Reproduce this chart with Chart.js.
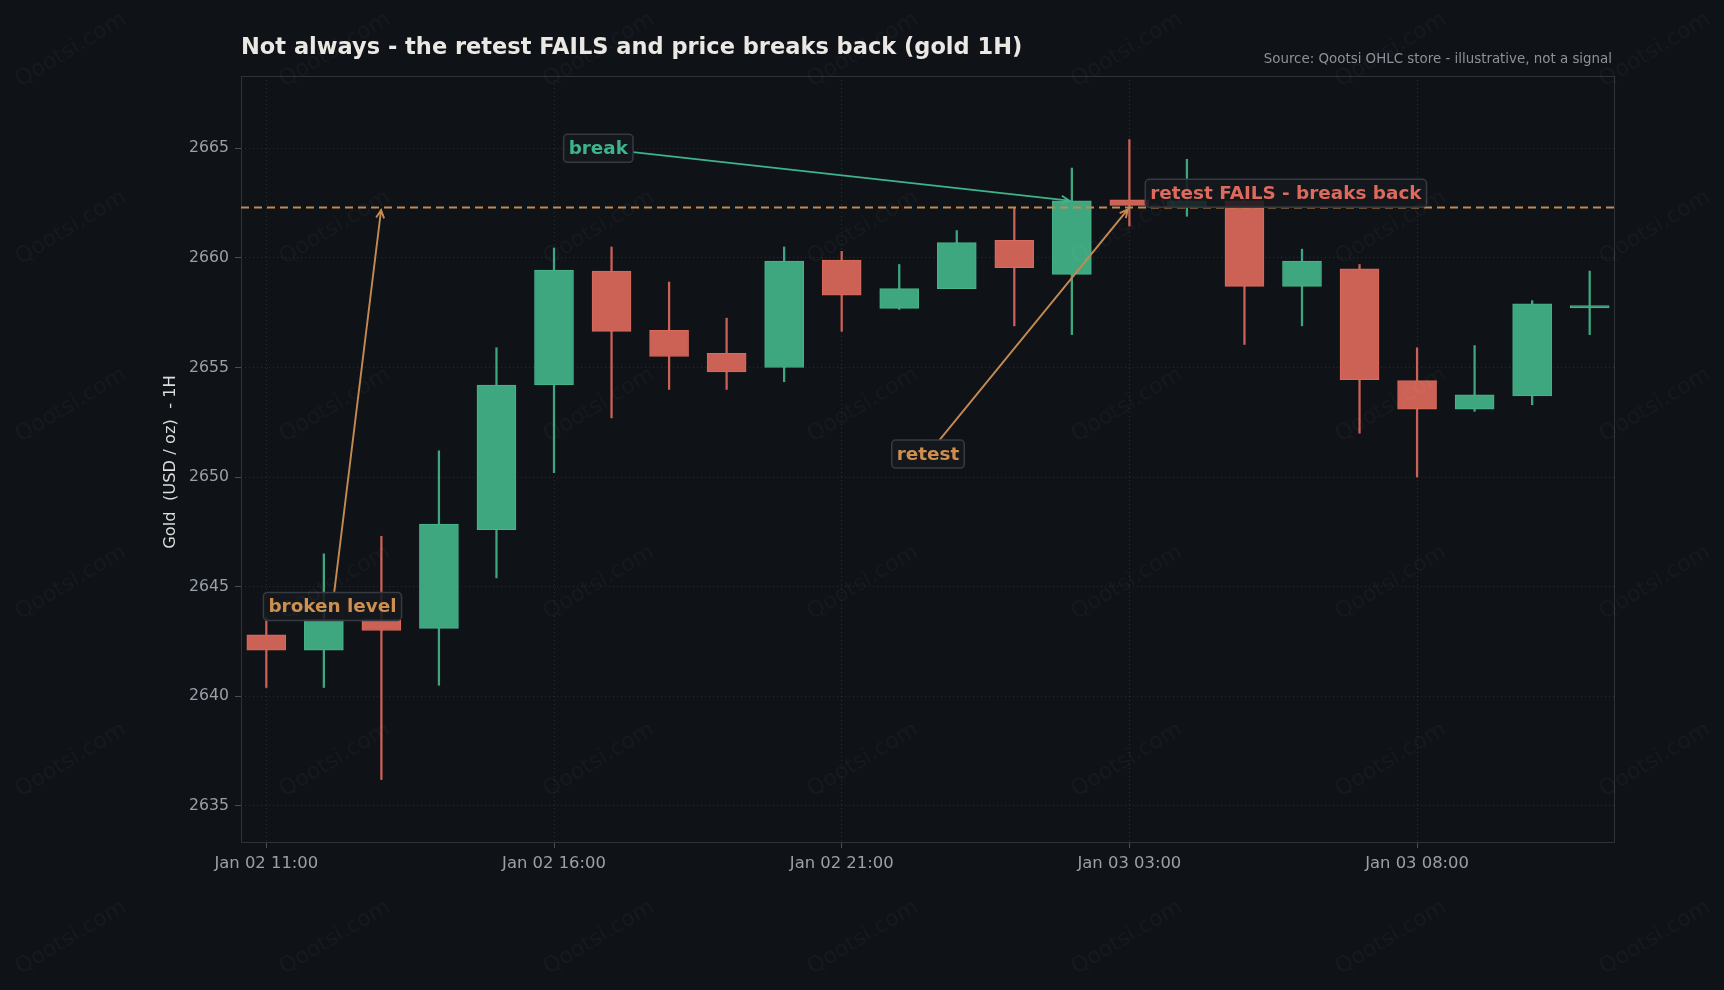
<!DOCTYPE html>
<html>
<head>
<meta charset="utf-8">
<script src="https://cdn.jsdelivr.net/npm/chart.js@4.4.1/dist/chart.umd.min.js"></script>
<style>
  html, body { margin: 0; padding: 0; background: #0f1217; }
  #wrap { width: 1724px; height: 990px; }
</style>
</head>
<body>
<div id="wrap"><canvas id="myChart"></canvas></div>
<script>
// hourly candles, gold, one hour missing at the daily break (22:00)
const times = [
  'Jan 02 11:00', 'Jan 02 12:00', 'Jan 02 13:00', 'Jan 02 14:00', 'Jan 02 15:00',
  'Jan 02 16:00', 'Jan 02 17:00', 'Jan 02 18:00', 'Jan 02 19:00', 'Jan 02 20:00',
  'Jan 02 21:00', 'Jan 02 23:00', 'Jan 03 00:00', 'Jan 03 01:00', 'Jan 03 02:00',
  'Jan 03 03:00', 'Jan 03 04:00', 'Jan 03 05:00', 'Jan 03 06:00', 'Jan 03 07:00',
  'Jan 03 08:00', 'Jan 03 09:00', 'Jan 03 10:00', 'Jan 03 11:00'
];
const opens  = [2642.8, 2642.1, 2643.5, 2643.1, 2647.6, 2654.2, 2659.4, 2656.7, 2655.65, 2655.0, 2659.9, 2657.7,
                2658.6, 2660.8, 2659.25, 2662.65, 2662.35, 2662.6, 2658.7, 2659.5, 2654.4, 2653.1, 2653.7, 2657.72];
const highs  = [2643.6, 2646.5, 2647.3, 2651.2, 2655.9, 2660.45, 2660.5, 2658.9, 2657.25, 2660.5, 2660.3, 2659.7,
                2661.25, 2662.3, 2664.1, 2665.4, 2664.5, 2662.7, 2660.4, 2659.7, 2655.9, 2656.0, 2658.05, 2659.4];
const lows   = [2640.4, 2640.4, 2636.2, 2640.5, 2645.4, 2650.2, 2652.7, 2654.0, 2654.0, 2654.35, 2656.65, 2657.65,
                2658.6, 2656.9, 2656.5, 2661.45, 2661.9, 2656.05, 2656.9, 2652.0, 2650.0, 2653.0, 2653.3, 2656.5];
const closes = [2642.1, 2643.5, 2643.0, 2647.85, 2654.2, 2659.45, 2656.65, 2655.5, 2654.8, 2659.85, 2658.3, 2658.6,
                2660.7, 2659.55, 2662.6, 2662.4, 2662.6, 2658.7, 2659.85, 2654.45, 2653.1, 2653.75, 2657.9, 2657.82];

const level = 2662.3;
const yTicks = [2635, 2640, 2645, 2650, 2655, 2660, 2665];
const xTicks = [0, 5, 10, 15, 20];

// label text, where it sits, what it points at (index, price)
const notes = [
  { text: 'broken level', at: [1.15, 2644.1], to: [2, level], color: '#cd8f50', arrow: '#c48a52' },
  { text: 'break', at: [5.77, 2665.0], to: [14, 2662.6], color: '#3db489', arrow: '#3db489' },
  { text: 'retest', at: [11.5, 2651.05], to: [15, level], color: '#cd8f50', arrow: '#c48a52' },
  { text: 'retest FAILS - breaks back', at: [17.72, 2662.95], to: null, color: '#dd6a5c', arrow: '#dd6a5c' }
];

Chart.defaults.font.family = "'DejaVu Sans', sans-serif";
Chart.defaults.color = '#9aa0a8';

const upFill = '#3fa77f', upEdge = '#4ab489';
const downFill = '#cc6255', downEdge = '#da6b5d';
const isUp = i => closes[i] >= opens[i];

const idx = times.map((t, i) => i);
const bodies = idx.map(i => ({ x: i, y: [Math.min(opens[i], closes[i]), Math.max(opens[i], closes[i])] }));
const wicks = idx.map(i => ({ x: i, y: [lows[i], highs[i]] }));

const xMin = -0.44, xMax = 23.44;

function drawNote(ctx, chart, n) {
  const xs = chart.scales.x, ys = chart.scales.y;
  const cx = xs.getPixelForValue(n.at[0]);
  const cy = ys.getPixelForValue(n.at[1]);
  ctx.save();
  ctx.font = "bold 18.4px 'DejaVu Sans'";
  const w = ctx.measureText(n.text).width + 10;
  const h = 28;
  if (n.to) {
    const tx = xs.getPixelForValue(n.to[0]);
    const ty = ys.getPixelForValue(n.to[1]);
    const dx = tx - cx, dy = ty - cy;
    const s = Math.min(dx ? Math.abs((w / 2) / dx) : Infinity, dy ? Math.abs((h / 2) / dy) : Infinity);
    const sx = cx + dx * s, sy = cy + dy * s;
    const len = Math.hypot(tx - sx, ty - sy);
    const ux = (tx - sx) / len, uy = (ty - sy) / len;
    const ex = tx - ux * 2.5, ey = ty - uy * 2.5;
    ctx.strokeStyle = n.arrow;
    ctx.lineWidth = 1.9;
    ctx.beginPath();
    ctx.moveTo(sx, sy);
    ctx.lineTo(ex, ey);
    ctx.moveTo(ex - ux * 8 - uy * 4, ey - uy * 8 + ux * 4);
    ctx.lineTo(ex, ey);
    ctx.lineTo(ex - ux * 8 + uy * 4, ey - uy * 8 - ux * 4);
    ctx.stroke();
  }
  ctx.beginPath();
  ctx.roundRect(cx - w / 2, cy - h / 2, w, h, 4);
  ctx.fillStyle = 'rgba(22,25,31,0.88)';
  ctx.fill();
  ctx.strokeStyle = '#363a42';
  ctx.lineWidth = 1.5;
  ctx.stroke();
  ctx.fillStyle = n.color;
  ctx.textAlign = 'center';
  ctx.textBaseline = 'middle';
  ctx.fillText(n.text, cx, cy + 1);
  ctx.restore();
}

const decor = {
  id: 'decor',
  beforeDraw(chart) {
    const c = chart.ctx;
    c.save();
    c.fillStyle = '#0f1217';
    c.fillRect(0, 0, chart.width, chart.height);
    c.restore();
  },
  beforeDatasetsDraw(chart) {
    const { ctx: c, chartArea: a } = chart;
    c.save();
    c.strokeStyle = '#2e3239';
    c.lineWidth = 1;
    c.strokeRect(a.left + 0.5, a.top + 0.5, a.right - a.left - 1, a.bottom - a.top);
    c.restore();
  },
  afterDatasetsDraw(chart) {
    notes.forEach(n => drawNote(chart.ctx, chart, n));
  },
  afterDraw(chart) {
    const { ctx: c, chartArea: a } = chart;
    c.save();
    c.fillStyle = '#ebe8e3';
    c.font = "bold 22.5px 'DejaVu Sans'";
    c.textBaseline = 'middle';
    c.textAlign = 'left';
    c.fillText('Not always - the retest FAILS and price breaks back (gold 1H)', a.left, 48);

    c.fillStyle = '#8d9199';
    c.font = "13.4px 'DejaVu Sans'";
    c.textAlign = 'right';
    c.fillText('Source: Qootsi OHLC store - illustrative, not a signal', 1612, 60);

    c.translate(171, (a.top + a.bottom) / 2 + 3);
    c.rotate(-Math.PI / 2);
    c.fillStyle = '#dcdcdc';
    c.font = "16.3px 'DejaVu Sans'";
    c.textAlign = 'center';
    c.fillText('Gold  (USD / oz)  - 1H', 0, 0);
    c.restore();

    // watermark
    c.save();
    c.fillStyle = 'rgba(255,255,255,0.032)';
    c.font = "22px 'DejaVu Sans'";
    c.textAlign = 'center';
    c.textBaseline = 'middle';
    for (let r = 0; r < 6; r++) {
      for (let k = 0; k < 7; k++) {
        c.save();
        c.translate(71 + 264 * k, 50 + 177.5 * r);
        c.rotate(-31 * Math.PI / 180);
        c.fillText('Qootsi.com', 0, 0);
        c.restore();
      }
    }
    c.restore();
  }
};

const myChart = new Chart(document.getElementById('myChart'), {
  type: 'bar',
  data: {
    datasets: [
      {
        type: 'line',
        label: 'level',
        data: [{ x: xMin, y: level }, { x: xMax, y: level }],
        borderColor: '#c08a55',
        borderWidth: 2,
        borderDash: [8, 5],
        pointRadius: 0,
        order: 0
      },
      {
        label: 'body',
        data: bodies,
        backgroundColor: idx.map(i => isUp(i) ? upFill : downFill),
        borderColor: idx.map(i => isUp(i) ? upEdge : downEdge),
        borderWidth: 1,
        borderSkipped: false,
        barThickness: 39,
        grouped: false,
        order: 1
      },
      {
        label: 'wick',
        data: wicks,
        backgroundColor: idx.map(i => isUp(i) ? upFill : downFill),
        borderWidth: 0,
        barThickness: 1.6,
        grouped: false,
        order: 2
      }
    ]
  },
  plugins: [decor],
  options: {
    responsive: true,
    maintainAspectRatio: false,
    animation: false,
    layout: { padding: { left: 0, top: 76, right: 109, bottom: 0 } },
    plugins: {
      legend: { display: false },
      tooltip: { enabled: false }
    },
    scales: {
      x: {
        type: 'linear',
        min: xMin,
        max: xMax,
        offset: false,
        afterBuildTicks: scale => { scale.ticks = xTicks.map(v => ({ value: v })); },
        afterFit: scale => { scale.height = 148; },
        ticks: {
          callback: v => times[v],
          color: '#9aa0a8',
          font: { size: 16.4 },
          maxRotation: 0,
          autoSkip: false,
          padding: 6
        },
        grid: {
          offset: false,
          color: 'rgba(255,255,255,0.11)',
          lineWidth: 1,
          drawTicks: true,
          tickLength: 6,
          tickColor: '#4a4f57',
          tickWidth: 1
        },
        border: { display: false, dash: [1, 3] }
      },
      y: {
        min: 2633.35,
        max: 2668.3,
        afterBuildTicks: scale => { scale.ticks = yTicks.map(v => ({ value: v })); },
        afterFit: scale => { scale.width = 241; },
        ticks: {
          callback: v => String(v),
          color: '#9aa0a8',
          font: { size: 15.7 },
          padding: 6
        },
        grid: {
          color: 'rgba(255,255,255,0.11)',
          lineWidth: 1,
          drawTicks: true,
          tickLength: 6,
          tickColor: '#4a4f57',
          tickWidth: 1
        },
        border: { display: false, dash: [1, 3] }
      }
    }
  }
});
</script>
</body>
</html>
